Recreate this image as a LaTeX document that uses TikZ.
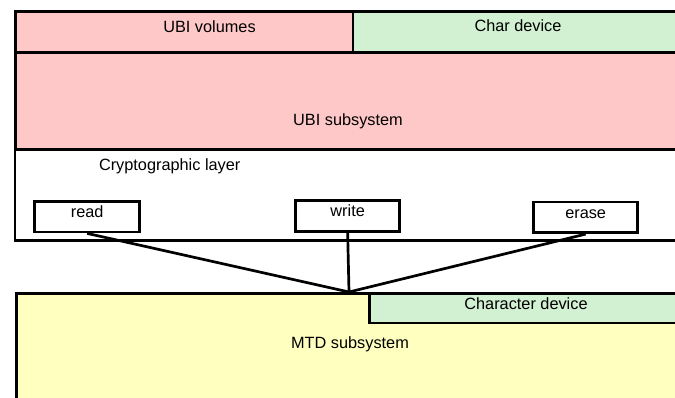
\documentclass[tikz,border=0pt]{standalone}
\usepackage{fontspec}
\setmainfont{Liberation Sans}
\definecolor{ubipink}{RGB}{255,200,200}
\definecolor{devgreen}{RGB}{210,240,210}
\definecolor{mtdyellow}{RGB}{255,255,192}
\tikzset{
  layer/.style={draw=black, line width=2.7pt, inner sep=0pt},
  opbox/.style={draw=black, line width=2.7pt, fill=white, inner sep=0pt,
    minimum width=104pt, minimum height=30.7pt, text height=16pt, text depth=14.7pt},
  caption/.style={anchor=base, inner sep=0pt},
  link/.style={draw=black, line width=2.7pt}
}
\begin{document}
\begin{tikzpicture}[x=1pt, y=-1pt, font=\fontsize{16.3}{19}\selectfont]
  \useasboundingbox (0,0) rectangle (675,398);
  \begin{scope}
  \clip (-5,-5) rectangle (675,398);

  % UBI layers
  \node[layer, fill=ubipink, minimum width=337.7pt, minimum height=41pt, anchor=north west]
    (ubivol) at (13.8,10) {};
  \node[layer, fill=devgreen, minimum width=400pt, minimum height=41pt, anchor=north west]
    (chardev) at (351.5,10) {};
  \node[layer, fill=ubipink, minimum width=750pt, minimum height=97pt, anchor=north west]
    (ubisub) at (13.8,51) {};
  \node[layer, fill=white, minimum width=750pt, minimum height=91.3pt, anchor=north west]
    (crypto) at (13.5,148) {};

  \node[caption] (ubivoltxt) at (209.5,32.3) {UBI volumes};
  \node[caption] (chardevtxt) at (518,32) {Char device};
  \node[caption] (ubisubtxt) at (348,126) {UBI subsystem};
  \node[caption] (cryptotxt) at (169.7,170.5) {Cryptographic layer};

  % MTD layers
  \node[layer, fill=mtdyellow, minimum width=750pt, minimum height=150pt, anchor=north west]
    (mtd) at (15,292) {};
  \node[layer, fill=devgreen, minimum width=400pt, minimum height=29.7pt, anchor=north west]
    (mtdchar) at (368.3,292) {};
  \node[caption] (mtdtxt) at (350,348.3) {MTD subsystem};
  \node[caption] (mtdchartxt) at (526,309.3) {Character device};

  % operations
  \node[opbox, minimum width=105pt, anchor=north west] (read) at (33.3,200) {read};
  \node[opbox, anchor=north west, text height=15.7pt, text depth=15pt] (write) at (294.3,199.3) {write};
  \node[opbox, anchor=north west, text height=16.6pt, text depth=14.1pt] (erase) at (532.3,200.7) {erase};

  \coordinate (meet) at (349,292);
  \draw[link] (read.south) -- (meet);
  \draw[link] (write.south) -- (meet);
  \draw[link] (erase.south) -- (meet);
  \end{scope}
\end{tikzpicture}
\end{document}
